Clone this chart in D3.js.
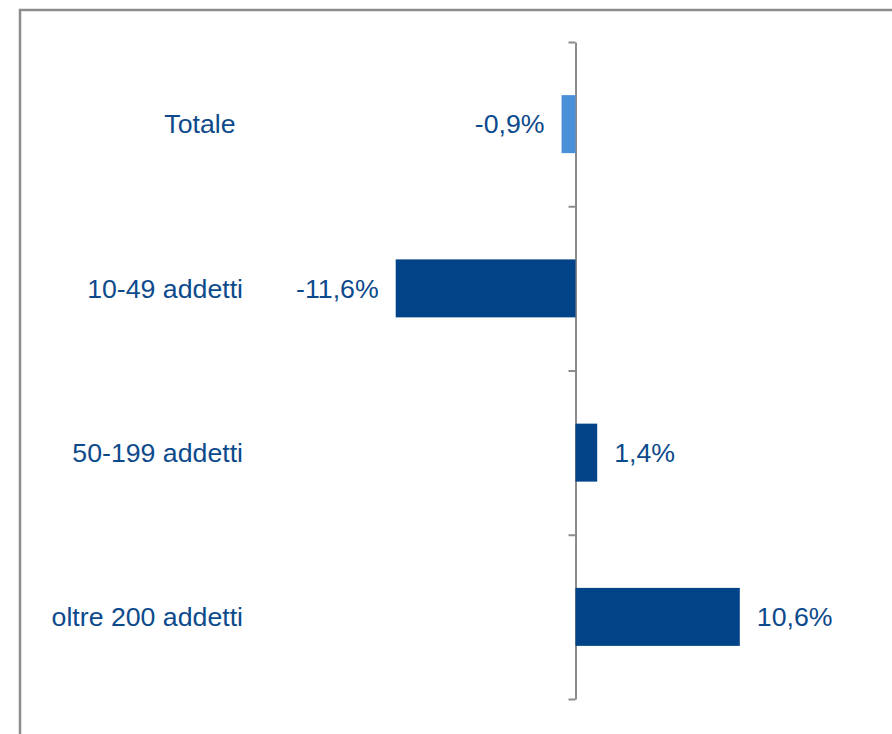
<!DOCTYPE html>
<html>
<head>
<meta charset="utf-8">
<script src="https://cdn.jsdelivr.net/npm/d3@7"></script>
<style>
  html, body { margin: 0; padding: 0; background: #fff; overflow: hidden; }
  text { font-family: "Liberation Sans", Arial, sans-serif; }
</style>
</head>
<body>
<div id="chart"></div>
<script>
// dati
const categories = ['Totale ', '10-49 addetti', '50-199 addetti', 'oltre 200 addetti'];
const values = [-0.9, -11.6, 1.4, 10.6];
const valueLabels = ['-0,9%', '-11,6%', '1,4%', '10,6%'];
const barColors = ['#4a90d9', '#004388', '#004388', '#004388'];

const width = 892, height = 734;
const textColor = '#0d4a8c';
const fontSize = 26.7;

const svg = d3.select('#chart')
  .append('svg')
  .attr('width', width)
  .attr('height', height);

// cornice
svg.append('rect')
  .attr('x', 20)
  .attr('y', 10)
  .attr('width', 900)
  .attr('height', 760)
  .attr('fill', 'none')
  .attr('stroke', '#8c8c8c')
  .attr('stroke-width', 2.5);

const x = d3.scaleLinear()
  .domain([-15, 15])
  .range([575.5 - 232.5, 575.5 + 232.5]);

const y = d3.scaleBand()
  .domain(categories)
  .range([42, 699])
  .paddingInner(0.647)
  .paddingOuter(0.3235);

// asse con tacche tra le categorie
const edges = d3.scaleLinear()
  .domain([0, categories.length])
  .range([42, 699]);

const axis = svg.append('g')
  .attr('transform', `translate(${x(0)},0)`)
  .call(d3.axisLeft(edges)
    .tickValues(d3.range(categories.length + 1))
    .tickFormat('')
    .tickSize(7)
    .tickSizeOuter(0));
axis.select('.domain').attr('stroke', '#8c8c8c').attr('stroke-width', 2);
axis.selectAll('.tick line').attr('stroke', '#8c8c8c').attr('stroke-width', 2);

// barre
svg.selectAll('rect.bar')
  .data(values)
  .join('rect')
  .attr('class', 'bar')
  .attr('x', d => x(Math.min(0, d)))
  .attr('y', (d, i) => y(categories[i]))
  .attr('width', d => Math.abs(x(d) - x(0)))
  .attr('height', y.bandwidth())
  .attr('fill', (d, i) => barColors[i]);

// etichette valori
svg.selectAll('text.val')
  .data(values)
  .join('text')
  .attr('class', 'val')
  .attr('x', d => d < 0 ? x(d) - 17 : x(d) + 17)
  .attr('y', (d, i) => y(categories[i]) + y.bandwidth() / 2)
  .attr('dy', '0.35em')
  .attr('text-anchor', d => d < 0 ? 'end' : 'start')
  .attr('font-size', fontSize)
  .attr('fill', textColor)
  .text((d, i) => valueLabels[i]);

// etichette categorie
svg.selectAll('text.cat')
  .data(categories)
  .join('text')
  .attr('class', 'cat')
  .attr('x', 243)
  .attr('y', d => y(d) + y.bandwidth() / 2)
  .attr('dy', '0.35em')
  .attr('text-anchor', 'end')
  .attr('font-size', fontSize)
  .attr('fill', textColor)
  .style('white-space', 'pre')
  .text(d => d);
</script>
</body>
</html>
